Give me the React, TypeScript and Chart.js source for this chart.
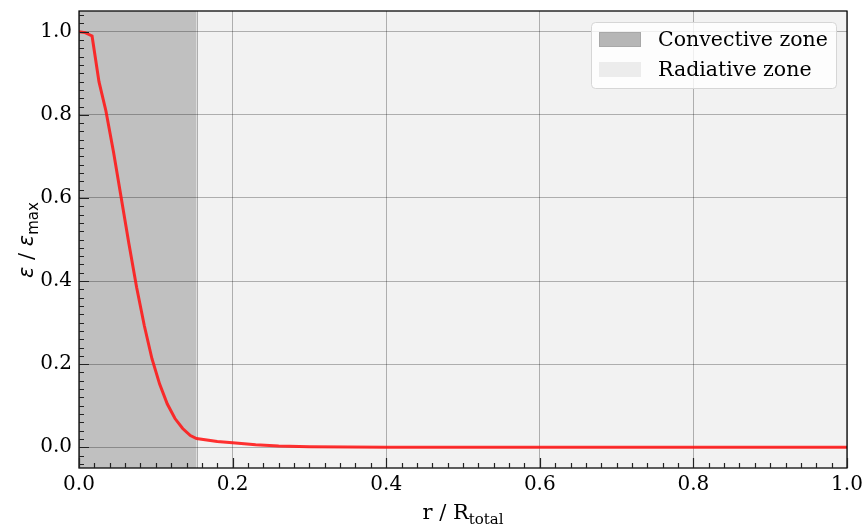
import React, { useEffect, useRef } from "react";
import { Chart, registerables } from "chart.js";

Chart.register(...registerables);

// radius fraction r / R_total
const R = [
  0, 0.008, 0.017, 0.026, 0.035, 0.045, 0.055, 0.065, 0.075, 0.085, 0.095,
  0.105, 0.115, 0.125, 0.135, 0.145, 0.153, 0.18, 0.2, 0.23, 0.26, 0.3, 0.35,
  0.4, 0.5, 0.6, 0.7, 0.8, 0.9, 1.0,
];
// normalised energy generation epsilon / epsilon_max
const EPS = [
  1.0, 0.998, 0.99, 0.88, 0.81, 0.71, 0.6, 0.49, 0.385, 0.293, 0.213, 0.152,
  0.104, 0.069, 0.045, 0.028, 0.021, 0.014, 0.011, 0.006, 0.003, 0.0012,
  0.0003, 0, 0, 0, 0, 0, 0, 0,
];
const CONVECTIVE_EDGE = 0.153;
const X_TICKS = [0, 0.2, 0.4, 0.6, 0.8, 1.0];
const Y_TICKS = [0, 0.2, 0.4, 0.6, 0.8, 1.0];
const LEGEND_LABELS = ["Convective zone", "Radiative zone"];

const SERIF = '"DejaVu Serif", serif';
const SANS = '"DejaVu Sans", sans-serif';

const decorPlugin = {
  id: "decor",
  beforeDraw(chart: any) {
    const { ctx, chartArea, scales } = chart;
    const { left, right, top, bottom } = chartArea;
    const x = scales.x;
    ctx.save();
    ctx.fillStyle = "#ffffff";
    ctx.fillRect(0, 0, chart.width, chart.height);
    const xe = x.getPixelForValue(CONVECTIVE_EDGE);
    ctx.fillStyle = "#f2f2f2";
    ctx.fillRect(xe, top, right - xe, bottom - top);
    ctx.fillStyle = "#c0c0c0";
    ctx.fillRect(left, top, xe - left, bottom - top);
    ctx.strokeStyle = "rgba(128,128,128,0.6)";
    ctx.lineWidth = 1;
    ctx.beginPath();
    ctx.moveTo(Math.round(xe) + 0.5, top);
    ctx.lineTo(Math.round(xe) + 0.5, bottom);
    ctx.stroke();
    ctx.restore();
  },
  afterDraw(chart: any) {
    const { ctx, chartArea, scales } = chart;
    const { left, right, top, bottom } = chartArea;
    const x = scales.x;
    const y = scales.y;
    ctx.save();
    // spines
    ctx.strokeStyle = "#000";
    ctx.lineWidth = 1.25;
    ctx.strokeRect(left, top, right - left, bottom - top);
    // ticks (inward)
    ctx.strokeStyle = "#222";
    ctx.lineWidth = 1.2;
    ctx.beginPath();
    for (let i = 0; i <= 50; i++) {
      const v = i / 50;
      const px = Math.round(x.getPixelForValue(v)) + 0.5;
      const len = i % 10 === 0 ? 10 : 5;
      ctx.moveTo(px, bottom);
      ctx.lineTo(px, bottom - len);
    }
    for (let i = -2; i <= 52; i++) {
      const v = i / 50;
      const py = Math.round(y.getPixelForValue(v)) + 0.5;
      if (py < top || py > bottom) continue;
      const len = i % 10 === 0 ? 10 : 5;
      ctx.moveTo(left, py);
      ctx.lineTo(left + len, py);
    }
    ctx.stroke();

    // legend
    const lx = 591, ly = 22, lw = 245, lh = 66;
    ctx.beginPath();
    ctx.roundRect(lx + 0.5, ly + 0.5, lw, lh, 4);
    ctx.fillStyle = "rgba(255,255,255,0.8)";
    ctx.fill();
    ctx.strokeStyle = "#d6d6d6";
    ctx.lineWidth = 1;
    ctx.stroke();
    ctx.fillStyle = "#b6b6b6";
    ctx.fillRect(599, 32, 42, 15);
    ctx.strokeStyle = "#a8a8a8";
    ctx.strokeRect(599.5, 32.5, 41, 14);
    ctx.fillStyle = "#ececec";
    ctx.fillRect(599, 62, 42, 15);
    ctx.fillStyle = "#000";
    ctx.font = `20.5px ${SERIF}`;
    ctx.textBaseline = "alphabetic";
    ctx.textAlign = "left";
    ctx.fillText(LEGEND_LABELS[0], 658, 46);
    ctx.fillText(LEGEND_LABELS[1], 658, 76);

    // x title: r / R_total
    const mainF = `21px ${SERIF}`;
    const subF = `15px ${SERIF}`;
    ctx.font = mainF;
    const w1 = ctx.measureText("r / R").width;
    ctx.font = subF;
    const w2 = ctx.measureText("total").width;
    const cx = (left + right) / 2;
    let sx = cx - (w1 + w2) / 2;
    ctx.font = mainF;
    ctx.fillText("r / R", sx, 519);
    ctx.font = subF;
    ctx.fillText("total", sx + w1, 524);

    // y title: ε / ε_max
    ctx.translate(33, 240);
    ctx.rotate(-Math.PI / 2);
    const parts = [
      { t: "\u03b5", f: `italic 21px ${SANS}`, dy: 0 },
      { t: " / ", f: `21px ${SERIF}`, dy: 0 },
      { t: "\u03b5", f: `italic 21px ${SANS}`, dy: 0 },
      { t: "max", f: `15px ${SANS}`, dy: 5 },
    ];
    let tw = 0;
    const ws = parts.map((p) => {
      ctx.font = p.f;
      const w = ctx.measureText(p.t).width;
      tw += w;
      return w;
    });
    let px = -tw / 2;
    parts.forEach((p, i) => {
      ctx.font = p.f;
      ctx.fillText(p.t, px, p.dy);
      px += ws[i];
    });
    ctx.restore();
  },
};

export default function App() {
  const ref = useRef<HTMLCanvasElement | null>(null);
  useEffect(() => {
    document.body.style.margin = "0";
    const canvas = ref.current;
    if (!canvas) return;
    const chart = new Chart(canvas, {
      type: "line",
      data: {
        datasets: [
          {
            data: R.map((r, i) => ({ x: r, y: EPS[i] })),
            borderColor: "rgba(255,20,20,0.88)",
            borderWidth: 3,
            pointRadius: 0,
            tension: 0,
            fill: false,
          },
        ],
      },
      options: {
        animation: false,
        responsive: false,
        maintainAspectRatio: false,
        devicePixelRatio: 1,
        layout: { padding: { left: 0, right: 19, top: 11, bottom: 0 } },
        plugins: { legend: { display: false }, title: { display: false }, tooltip: { enabled: false } },
        scales: {
          x: {
            type: "linear",
            min: 0,
            max: 1,
            afterBuildTicks: (s: any) => {
              s.ticks = X_TICKS.map((v) => ({ value: v }));
            },
            afterFit: (s: any) => {
              s.height = 57;
              s.paddingLeft = 0;
              s.paddingRight = 0;
            },
            grid: { color: "rgba(0,0,0,0.28)", lineWidth: 1, drawTicks: false },
            border: { display: false },
            ticks: {
              color: "#000",
              font: { family: "DejaVu Serif", size: 20 },
              padding: 5,
              maxRotation: 0,
              callback: (v: any) => Number(v).toFixed(1),
            },
          },
          y: {
            type: "linear",
            min: -0.05,
            max: 1.05,
            afterBuildTicks: (s: any) => {
              s.ticks = Y_TICKS.map((v) => ({ value: v }));
            },
            afterFit: (s: any) => {
              s.width = 79;
              s.paddingTop = 0;
              s.paddingBottom = 0;
            },
            grid: { color: "rgba(0,0,0,0.28)", lineWidth: 1, drawTicks: false },
            border: { display: false },
            ticks: {
              color: "#000",
              font: { family: "DejaVu Serif", size: 20 },
              padding: 7,
              callback: (v: any) => Number(v).toFixed(1),
            },
          },
        },
      },
      plugins: [decorPlugin],
    });
    return () => chart.destroy();
  }, []);
  return (
    <div style={{ position: "absolute", left: 0, top: 0, width: 866, height: 525 }}>
      <canvas ref={ref} width={866} height={525} style={{ width: 866, height: 525, display: "block" }} />
    </div>
  );
}
